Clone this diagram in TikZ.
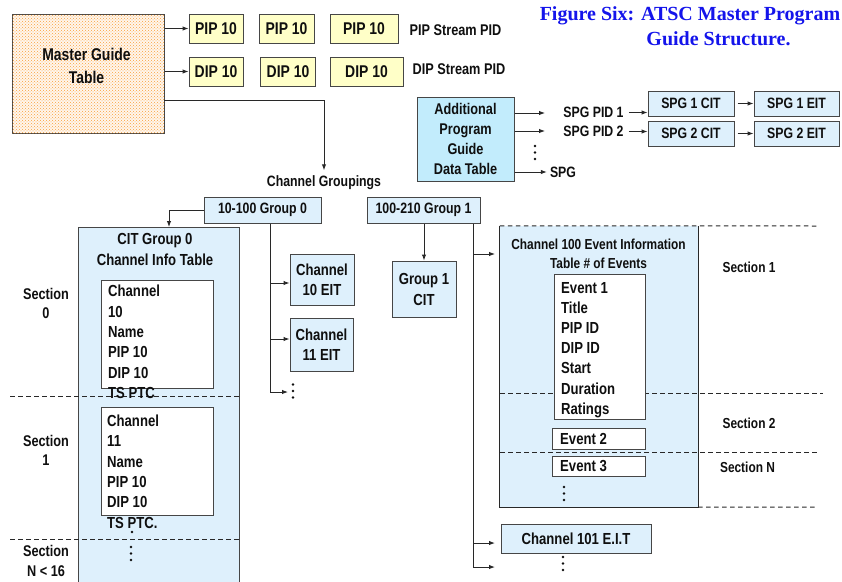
\documentclass[tikz,border=0pt]{standalone}
\usepackage{fontspec}
\setmainfont{Liberation Sans}[FakeStretch=0.82]
\newfontfamily\titlefont{Liberation Serif}
\usetikzlibrary{arrows.meta,patterns}
\definecolor{bordc}{RGB}{70,70,70}
\definecolor{linec}{RGB}{40,40,40}
\definecolor{txtc}{RGB}{15,15,15}
\definecolor{pipy}{RGB}{255,255,200}
\definecolor{lblue}{RGB}{222,240,252}
\definecolor{cyanb}{RGB}{194,236,252}
\definecolor{peach}{RGB}{255,246,236}
\definecolor{dotor}{RGB}{250,160,60}
\definecolor{titleblue}{RGB}{20,20,235}
\newcommand\myfs[2]{\fontsize{#1}{#2}\selectfont\bfseries}
\newcommand\threedots[3]{%
  \node[dotn] (#1a) at (#2,#3) {};
  \node[dotn] (#1b) at (#2,#3+6.5) {};
  \node[dotn] (#1c) at (#2,#3+13) {};}
\begin{document}
\begin{tikzpicture}[x=1pt,y=-1pt,
  bx/.style={draw=bordc,line width=1pt,inner sep=0pt,text=txtc},
  ybox/.style={bx,fill=pipy,font=\myfs{17}{20}},
  bbox/.style={bx,fill=lblue},
  wbox/.style={bx,fill=white},
  txt/.style={inner sep=0pt,text=txtc},
  ttl/.style={inner sep=0pt,text=titleblue,font=\titlefont\bfseries\fontsize{20}{24}\selectfont},
  arr/.style={draw=linec,line width=1pt,-{Latex[length=6pt,width=4.5pt]}},
  ln/.style={draw=linec,line width=1pt},
  dsh/.style={draw=linec,line width=1pt,dash pattern=on 4.5pt off 3.5pt},
  dotn/.style={circle,fill=txtc,inner sep=0pt,minimum size=2.8pt}
]
\useasboundingbox (0,0) rectangle (842,581);
\clip (0,0) rectangle (842,581);
\fill[white] (0,0) rectangle (842,581);

% Master guide table
\node[bx,fill=peach,postaction={pattern=crosshatch dots,pattern color=dotor},
  minimum width=152,minimum height=119] (mgt) at (88,73.5) {};
\node[txt,align=center,font=\myfs{17}{23}] (mgtT) at (86.5,65.5) {Master Guide\\Table};

% PIP / DIP rows
\node[ybox,minimum width=54,minimum height=29] (p1) at (216,28.5) {PIP 10};
\node[ybox,minimum width=55,minimum height=29] (p2) at (286.5,28.5) {PIP 10};
\node[ybox,minimum width=68,minimum height=29] (p3) at (364,28.5) {PIP 10};
\node[ybox,minimum width=54,minimum height=29] (d1) at (216,71.5) {DIP 10};
\node[ybox,minimum width=55,minimum height=29] (d2) at (288,71.5) {DIP 10};
\node[ybox,minimum width=73,minimum height=29] (d3) at (366.5,71.5) {DIP 10};
\node[txt,font=\myfs{15.5}{19}] (pipl) at (455.5,30) {PIP Stream PID};
\node[txt,font=\myfs{15.5}{19}] (dipl) at (459,69) {DIP Stream PID};
\draw[arr] (mgt.east |- p1.west) -- (p1.west);
\draw[arr] (mgt.east |- d1.west) -- (d1.west);

% Title
\node[ttl] (t1) at (690,16) {Figure Six: ATSC Master Program};
\node[ttl] (t2) at (718.5,39) {Guide Structure.};

% Channel groupings
\coordinate (m3) at (164,100);
\node[txt,font=\myfs{15}{18}] (cgl) at (324,182.5) {Channel Groupings};
\draw[arr] (m3) -| ([yshift=5pt]cgl.north);

% Additional program guide
\node[bx,fill=cyanb,minimum width=97,minimum height=84,align=center,font=\myfs{15.5}{20}] (adt) at (465.5,139) {Additional\\Program\\Guide\\Data Table};
\coordinate (a1) at (545,113);
\coordinate (a2) at (545,131);
\node[txt,font=\myfs{15}{18}] (s1) at (593.5,112.5) {SPG PID 1};
\node[txt,font=\myfs{15}{18}] (s2) at (593.5,131.5) {SPG PID 2};
\node[txt,font=\myfs{15}{18}] (spg) at (563,172) {SPG};
\draw[arr] (adt.east |- a1) -- (a1);
\draw[arr] (adt.east |- a2) -- (a2);
\draw[arr] (adt.east |- spg.west) -- ([xshift=-3pt]spg.west);
\threedots{ad}{535}{146}
\node[bbox,minimum width=86,minimum height=25,font=\myfs{15}{18}] (c1) at (691,103.5) {SPG 1 CIT};
\node[bbox,minimum width=85,minimum height=25,font=\myfs{15}{18}] (e1) at (796.5,103.5) {SPG 1 EIT};
\node[bbox,minimum width=86,minimum height=25,font=\myfs{15}{18}] (c2) at (691,133.5) {SPG 2 CIT};
\node[bbox,minimum width=85,minimum height=25,font=\myfs{15}{18}] (e2) at (796.5,133.5) {SPG 2 EIT};
\draw[arr] ([xshift=5pt]s1.east) -- (s1.east -| c1.west);
\draw[arr] ([xshift=5pt]s2.east) -- (s2.east -| c2.west);
\draw[arr] ([xshift=3pt]c1.east) -- (e1.west);
\draw[arr] ([xshift=3pt]c2.east) -- (e2.west);

% Group boxes
\node[bbox,minimum width=117,minimum height=26,font=\myfs{15}{18}] (g0) at (262.5,210) {10-100 Group 0};
\node[bbox,minimum width=113,minimum height=26,font=\myfs{15}{18}] (g1) at (423.5,210) {100-210 Group 1};

% CIT Group 0
\node[bbox,minimum width=161,minimum height=364,anchor=north] (cit) at (158.5,227) {};
\draw[arr] (g0.west) -| ([xshift=10.5pt]cit.north);
\node[txt,align=center,font=\myfs{16}{21}] (citT) at (155,249.5) {CIT Group 0\\Channel Info Table};
\coordinate (l1) at (10,396);
\coordinate (l2) at (10,539);
\draw[dsh] (l1) -- (l1 -| cit.east);
\draw[dsh] (l2) -- (l2 -| cit.east);
\node[wbox,minimum width=112,minimum height=108] (ib1) at (157,334) {};
\node[wbox,minimum width=112,minimum height=108] (ib2) at (157,461) {};
\node[txt,align=left,anchor=west,font=\myfs{16}{20.4}] (ib1T) at (108,342) {Channel\\10\\Name\\PIP 10\\DIP 10\\TS PTC};
\node[txt,align=left,anchor=west,font=\myfs{16}{20.4}] (ib2T) at (107,471.5) {Channel\\11\\Name\\PIP 10\\DIP 10\\TS PTC.};
\node[dotn] (sd) at (132,532) {};
\threedots{cd}{131}{547}
\node[txt,align=center,font=\myfs{15.5}{19.5}] (sec0) at (46,303.5) {Section\\0};
\node[txt,align=center,font=\myfs{15.5}{19.5}] (sec1) at (46,450.5) {Section\\1};
\node[txt,align=center,font=\myfs{15.5}{19.5}] (secN) at (46,561) {Section\\N < 16};

% Channel EITs of group 0
\node[bbox,minimum width=64,minimum height=51,align=center,font=\myfs{16}{20}] (ce10) at (322,279.5) {Channel\\10 EIT};
\node[bbox,minimum width=63,minimum height=53,align=center,font=\myfs{16}{20}] (ce11) at (321.5,344.5) {Channel\\11 EIT};
\coordinate (t0) at (270,392);
\coordinate (t0e) at (288,392);
\coordinate (k10) at (270,283);
\coordinate (k11) at (270,339);
\draw[ln] (g0.south -| t0) -- (t0);
\draw[arr] (k10) -- (k10 -| ce10.west);
\draw[arr] (k11) -- (k11 -| ce11.west);
\draw[arr] (t0) -- (t0e);
\threedots{gd}{293}{384.5}

% Group 1
\node[bbox,minimum width=64,minimum height=56,align=center,font=\myfs{16}{21}] (gc1) at (424,289) {Group 1\\CIT};
\draw[arr] (g1.south -| gc1.north) -- (gc1.north);
\coordinate (t1) at (473,567);
\coordinate (t1e) at (495,567);
\coordinate (k100) at (473,254);
\coordinate (k100e) at (495,254);
\coordinate (k101) at (473,543);
\coordinate (k101e) at (495,543);
\draw[ln] (g1.south -| t1) -- (t1);
\draw[arr] (k100) -- (k100e);
\draw[arr] (k101) -- (k101e);
\draw[arr] (t1) -- (t1e);

% Channel 100 EIT
\node[fill=lblue,inner sep=0pt,minimum width=198,minimum height=281] (ev) at (599,366.5) {};
\draw[ln] (ev.north west) -- (ev.south west) -- (ev.south east) -- (ev.north east);
\coordinate (r1) at (817,226);
\coordinate (r2a) at (500,393);
\coordinate (r2b) at (823,393);
\coordinate (r3a) at (500,452);
\coordinate (r3b) at (817,452);
\coordinate (r4) at (817,507);
\draw[dsh] (ev.north west) -- (r1);
\draw[dsh] (r2a) -- (r2b);
\draw[dsh] (r3a) -- (r3b);
\draw[dsh] (ev.south east) -- (r4);
\node[txt,align=center,font=\myfs{14.5}{19}] (evT) at (598.5,253.5) {Channel 100 Event Information\\Table \# of Events};
\node[wbox,minimum width=91,minimum height=145] (evb) at (599.5,346.5) {};
\node[txt,align=left,anchor=west,font=\myfs{16}{20.17}] (evbT) at (561,350) {Event 1\\Title\\PIP ID\\DIP ID\\Start\\Duration\\Ratings};
\node[wbox,minimum width=93,minimum height=21] (ev2) at (598.5,438.5) {};
\node[txt,anchor=west,font=\myfs{16}{20}] (ev2T) at (560,438.5) {Event 2};
\node[wbox,minimum width=93,minimum height=20] (ev3) at (598.5,466) {};
\node[txt,anchor=west,font=\myfs{16}{20}] (ev3T) at (560,466) {Event 3};
\threedots{ed}{564}{487}
\node[txt,font=\myfs{14.5}{18}] (rs1) at (749,267) {Section 1};
\node[txt,font=\myfs{14.5}{18}] (rs2) at (749,423) {Section 2};
\node[txt,font=\myfs{14.5}{18}] (rsN) at (747.5,467) {Section N};

% Channel 101
\node[bbox,minimum width=150,minimum height=29,font=\myfs{16}{20}] (c101) at (576,538.5) {Channel 101 E.I.T};
\threedots{hd}{563}{557}
\end{tikzpicture}
\end{document}
